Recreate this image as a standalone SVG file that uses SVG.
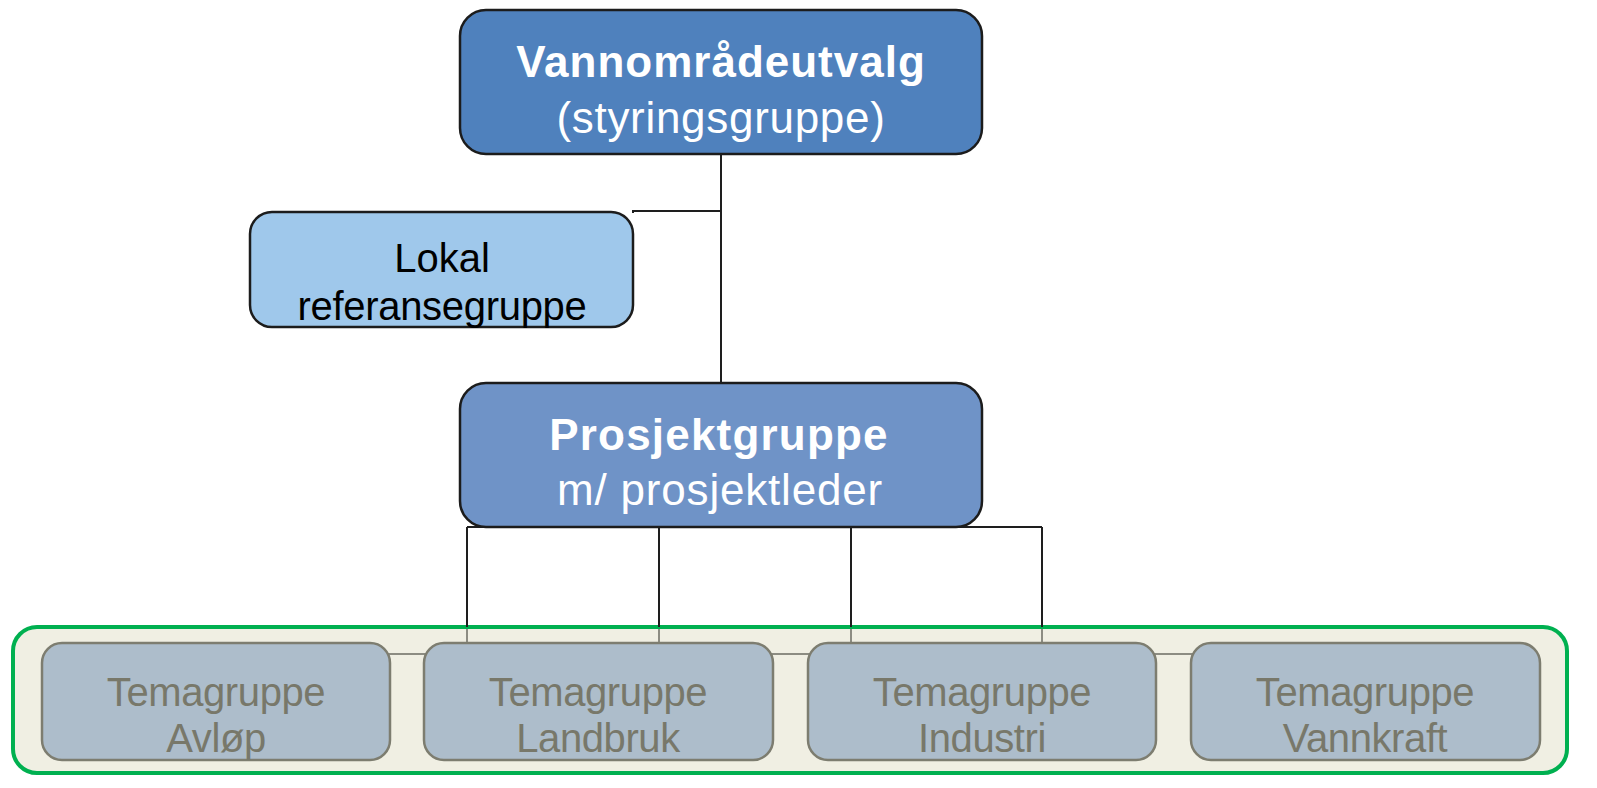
<svg xmlns="http://www.w3.org/2000/svg" width="1597" height="788" viewBox="0 0 1597 788">
<style>
.box{stroke:#1c1c1c;stroke-width:2.5}
.t{font-family:"Liberation Sans",Arial,sans-serif;text-anchor:middle}
.w{fill:#ffffff;font-size:44px}
.b{font-weight:bold}
.k{fill:#000000;font-size:40px}
.g{fill:#78786a;font-size:40px}
.tema{fill:#adbdcb;stroke:#7d7d70;stroke-width:2.5}
.con{fill:none;stroke:#1e1e1e;stroke-width:2}
.con2{fill:none;stroke:#8c8c82;stroke-width:2}
</style>
<rect width="1597" height="788" fill="#ffffff"/>
<g id="container">
<rect x="13" y="627" width="1554" height="146" rx="24" fill="#f0efe3" stroke="#00b050" stroke-width="4"/>
</g>
<g id="connectors">
<path class="con" d="M721 154 V383 M721 211 H633 V213"/>
<path class="con" d="M467 527 H1042 M467 527 V627 M659 527 V627 M851 527 V627 M1042 527 V627"/>
<path class="con2" d="M467 629 V654 M659 629 V654 M851 629 V654 M1042 629 V654 M385 654 H1195"/>
</g>
<g id="vannomradeutvalg">
<rect class="box" x="460" y="10" width="522" height="144" rx="26" fill="#4f81bd"/>
<text class="t w b" x="721" y="77" letter-spacing="1">Vannområdeutvalg</text>
<text class="t w" x="721" y="133" letter-spacing="0.7">(styringsgruppe)</text>
</g>
<g id="lokal">
<rect class="box" x="250" y="212" width="383" height="115" rx="22" fill="#9fc8eb"/>
<text class="t k" x="442" y="272">Lokal</text>
<text class="t k" x="442" y="320" letter-spacing="-0.3">referansegruppe</text>
</g>
<g id="prosjektgruppe">
<rect class="box" x="460" y="383" width="522" height="144" rx="26" fill="#6f93c7"/>
<text class="t w b" x="719" y="450" letter-spacing="1.2">Prosjektgruppe</text>
<text class="t w" x="720" y="505" letter-spacing="0.8">m/ prosjektleder</text>
</g>
<g id="tema-avlop">
<rect class="tema" x="42" y="643" width="348" height="117" rx="20"/>
<text class="t g" x="216" y="706" letter-spacing="-0.4">Temagruppe</text>
<text class="t g" x="216" y="752" letter-spacing="-0.4">Avløp</text>
</g>
<g id="tema-landbruk">
<rect class="tema" x="424" y="643" width="349" height="117" rx="20"/>
<text class="t g" x="598" y="706" letter-spacing="-0.4">Temagruppe</text>
<text class="t g" x="598" y="752" letter-spacing="-0.4">Landbruk</text>
</g>
<g id="tema-industri">
<rect class="tema" x="808" y="643" width="348" height="117" rx="20"/>
<text class="t g" x="982" y="706" letter-spacing="-0.4">Temagruppe</text>
<text class="t g" x="982" y="752" letter-spacing="-0.4">Industri</text>
</g>
<g id="tema-vannkraft">
<rect class="tema" x="1191" y="643" width="349" height="117" rx="20"/>
<text class="t g" x="1365" y="706" letter-spacing="-0.4">Temagruppe</text>
<text class="t g" x="1365" y="752" letter-spacing="-0.4">Vannkraft</text>
</g>
</svg>
